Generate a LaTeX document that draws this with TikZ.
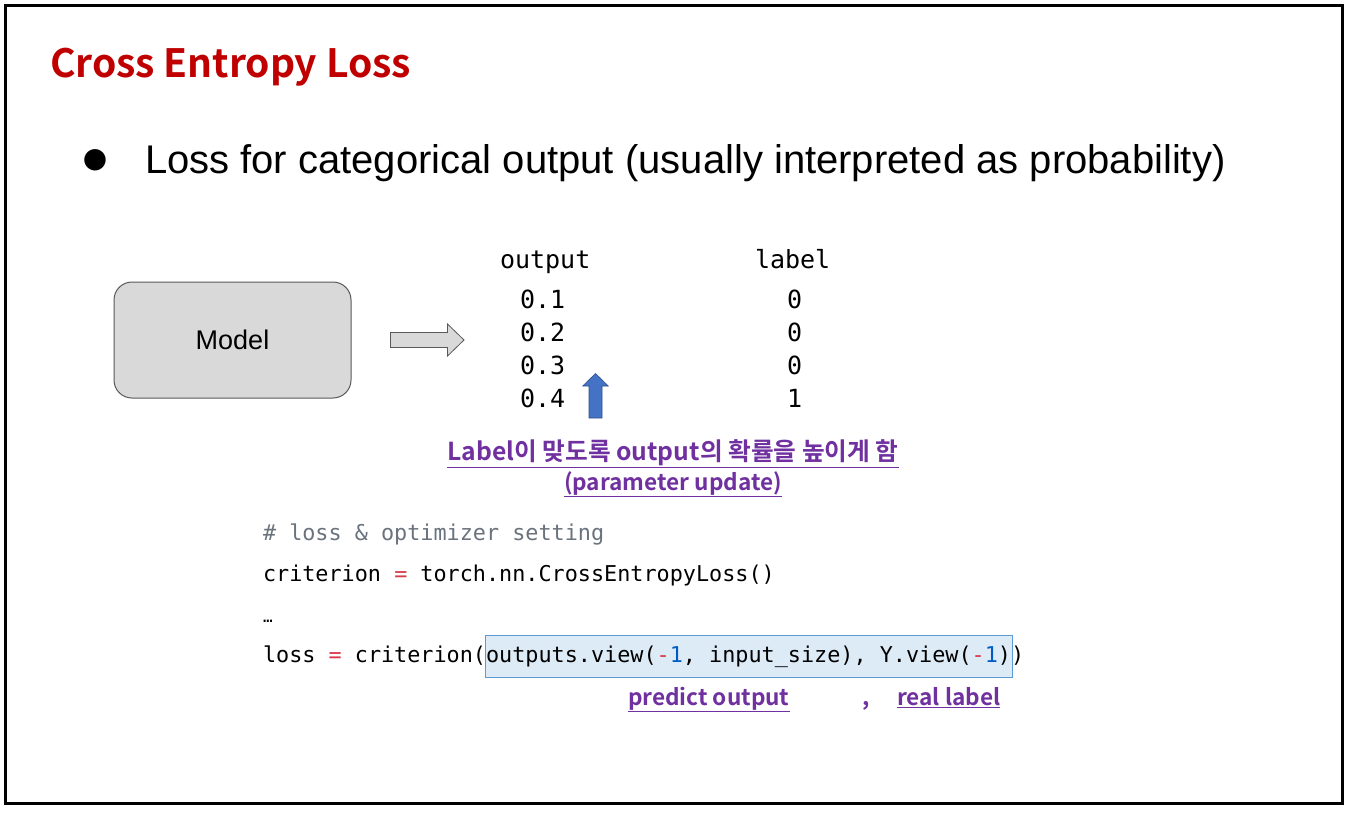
\documentclass[tikz,border=0pt]{standalone}
\usepackage{fontspec}
\setmainfont{Liberation Sans}
\newfontfamily\krfont{Noto Sans CJK KR}[BoldFont={* Bold}]
\newfontfamily\monofont{DejaVu Sans Mono}
\newfontfamily\symfont{DejaVu Sans}

\definecolor{titlered}{HTML}{C00000}
\definecolor{notepurple}{HTML}{7030A0}
\definecolor{boxgray}{HTML}{D9D9D9}
\definecolor{edgegray}{HTML}{595959}
\definecolor{codegray}{HTML}{6A737D}
\definecolor{codered}{HTML}{D73A49}
\definecolor{codeblue}{HTML}{005CC5}
\definecolor{arrowblue}{HTML}{4472C4}
\definecolor{hlfill}{HTML}{DDEBF7}
\definecolor{hledge}{HTML}{5B9BD5}

\tikzset{
  txt/.style={inner sep=0pt, outer sep=0pt},
  mono/.style={txt, anchor=base west, font=\monofont\fontsize{25}{25}\selectfont},
  code/.style={txt, anchor=base west, font=\monofont\fontsize{21.8}{22}\selectfont},
  note/.style={txt, anchor=base, text=notepurple, font=\krfont\bfseries\fontsize{22.6}{24}\selectfont},
  blockarrow/.style={draw=edgegray, fill=boxgray, line width=0.8pt, line join=miter},
  bluearrow/.style={draw=arrowblue!70!black, fill=arrowblue, line width=0.6pt, line join=miter},
}

\begin{document}
\begin{tikzpicture}[x=1pt, y=-1pt]
  \useasboundingbox (0,0) rectangle (1352,812);
  \fill[white] (0,0) rectangle (1352,812);
  \draw[line width=3pt] (5.5,5.5) rectangle (1342,803);

  % heading and bullet line
  \node[txt, anchor=base west, text=titlered, font=\krfont\bfseries\fontsize{39}{42}\selectfont]
    (title) at (50,77) {Cross Entropy Loss};
  \node[txt, anchor=center, font=\symfont\fontsize{28}{28}\selectfont] (dot) at (95,160) {●};
  \node[txt, anchor=base west, font=\fontsize{40}{42}\selectfont] (bullet) at (145,173)
    {Loss for categorical output (usually interpreted as probability)};

  % model box and block arrow
  \node[draw=edgegray, fill=boxgray, rounded corners=18pt, line width=1pt,
        minimum width=237pt, minimum height=116pt,
        font=\fontsize{27}{28}\selectfont] (model) at (232.5,340) {Model};
  \draw[blockarrow] (390.5,332.5) -- (447.5,332.5) -- (447.5,324) -- (464,340)
    -- (447.5,356) -- (447.5,347.5) -- (390.5,347.5) -- cycle;

  % output / label columns
  \node[mono] (outhead) at (500,268) {output};
  \node[mono] (o1) at (520,308) {0.1};
  \node[mono] (o2) at (520,341) {0.2};
  \node[mono] (o3) at (520,374) {0.3};
  \node[mono] (o4) at (520,407) {0.4};
  \node[mono] (labhead) at (755,268) {label};
  \node[mono] (l1) at (787,308) {0};
  \node[mono] (l2) at (787,341) {0};
  \node[mono] (l3) at (787,374) {0};
  \node[mono] (l4) at (787,407) {1};

  % upward arrow next to the largest output
  \draw[bluearrow] (589,418) -- (589,386) -- (582.7,386) -- (595.5,373.5)
    -- (608.3,386) -- (602,386) -- (602,418) -- cycle;

  % explanation
  \node[note, font=\krfont\bfseries\fontsize{24.7}{26}\selectfont] (note1) at (673,460)
    {\underline{Label이 맞도록 output의 확률을 높이게 함}};
  \node[note] (note2) at (673,490) {\underline{(parameter update)}};

  % code block
  \node[draw=hledge, fill=hlfill, line width=0.8pt, minimum width=527pt,
        minimum height=42pt, inner sep=0pt] (hl) at (748.5,656) {};
  \node[code, text=codegray] (c1) at (263,540) {\# loss \& optimizer setting};
  \node[code] (c2) at (263,581)
    {criterion \textcolor{codered}{=} torch.nn.CrossEntropyLoss()};
  \node[code, font=\monofont\fontsize{16}{16}\selectfont] (c3) at (263,622) {…};
  \node[code] (c4) at (263,662)
    {loss \textcolor{codered}{=} criterion(outputs.view(\textcolor{codered}{-}\textcolor{codeblue}{1}, input\_size), Y.view(\textcolor{codered}{-}\textcolor{codeblue}{1}))};

  % argument captions
  \node[note, anchor=base west] (pred) at (628,705) {\underline{predict output}};
  \node[note, anchor=base west] (comma) at (862,705) {,};
  \node[note, anchor=base west] (real) at (897,705) {\underline{real label}};
\end{tikzpicture}
\end{document}
